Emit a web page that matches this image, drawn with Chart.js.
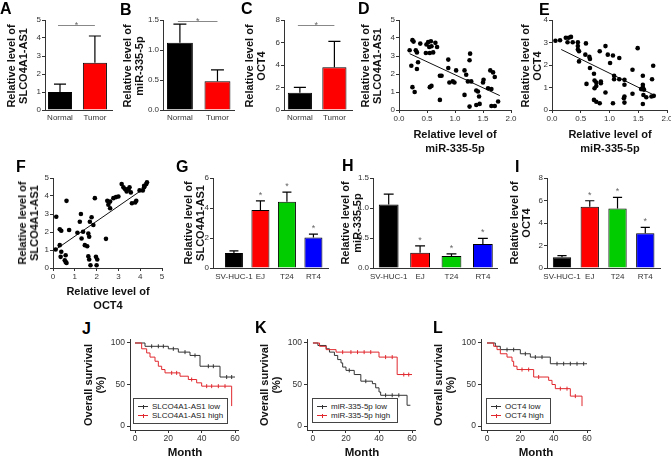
<!DOCTYPE html>
<html><head><meta charset="utf-8">
<script src="https://cdn.jsdelivr.net/npm/chart.js@4.4.1/dist/chart.umd.min.js"></script>
<style>
html,body{margin:0;padding:0;background:#fff;}
#wrap{position:relative;width:671px;height:457px;overflow:hidden;background:#fff;font-family:"Liberation Sans",Arial,sans-serif;color:#111;}
canvas{position:absolute;}
.lt{position:absolute;font-weight:bold;font-size:16px;line-height:16px;color:#000;}
.yt{position:absolute;font-weight:bold;font-size:11px;line-height:12px;white-space:nowrap;text-align:center;transform:translate(-50%,-50%) rotate(-90deg);color:#111;}
.xt{position:absolute;font-weight:bold;font-size:11px;line-height:14px;white-space:nowrap;text-align:center;transform:translate(-50%,-50%);color:#111;}
.mo{font-size:11.5px;}
.lg{position:absolute;box-sizing:border-box;border:1px solid #444;background:#fff;font-size:8px;line-height:9px;color:#222;padding:3px 0 0 4px;}
.li{white-space:nowrap;height:9px;}
.ls{display:inline-block;position:relative;width:10px;height:0;border-top:1px solid currentColor;vertical-align:middle;margin-right:4px;}
.ls::after{content:"";position:absolute;left:4.5px;top:-2.5px;width:1px;height:4px;background:currentColor;}
.lk{color:#333;} .lr{color:#e0282e;}
.tx{color:#222;}
</style></head>
<body>
<div id="wrap">
  <div class="lt" style="left:0px;top:1px">A</div>
  <div class="lt" style="left:120px;top:2px">B</div>
  <div class="lt" style="left:241px;top:1px">C</div>
  <div class="lt" style="left:358px;top:1px">D</div>
  <div class="lt" style="left:539px;top:2px">E</div>
  <div class="lt" style="left:16px;top:159px">F</div>
  <div class="lt" style="left:176px;top:159px">G</div>
  <div class="lt" style="left:342px;top:158px">H</div>
  <div class="lt" style="left:515px;top:159px">I</div>
  <div class="lt" style="left:82px;top:321px">J</div>
  <div class="lt" style="left:255px;top:320px">K</div>
  <div class="lt" style="left:433px;top:320px">L</div>

  <div class="yt" style="left:17px;top:66px">Relative level of<br>SLCO4A1-AS1</div>
  <div class="yt" style="left:133px;top:66px">Relative level of<br>miR-335-5p</div>
  <div class="yt" style="left:255px;top:66px">Relative level of<br>OCT4</div>
  <div class="yt" style="left:370.5px;top:66px">Relative level of<br>SLCO4A1-AS1</div>
  <div class="yt" style="left:531px;top:66px">Relative level of<br>OCT4</div>
  <div class="yt" style="left:27.5px;top:223px">Relative level of<br>SLCO4A1-AS1</div>
  <div class="yt" style="left:194px;top:223px">Relative level of<br>SLCO4A1-AS1</div>
  <div class="yt" style="left:351px;top:223px">Relative level of<br>miR-335-5p</div>
  <div class="yt" style="left:520px;top:223px">Relative level of<br>OCT4</div>
  <div class="yt" style="left:93.5px;top:385px">Overall survival<br>(%)</div>
  <div class="yt" style="left:270px;top:385px">Overall survival<br>(%)</div>
  <div class="yt" style="left:444px;top:385px">Overall survival<br>(%)</div>

  <div class="xt" style="left:455px;top:141px">Relative level of<br>miR-335-5p</div>
  <div class="xt" style="left:610px;top:141px">Relative level of<br>miR-335-5p</div>
  <div class="xt" style="left:108px;top:298px">Relative level of<br>OCT4</div>
  <div class="xt mo" style="left:185px;top:452px">Month</div>
  <div class="xt mo" style="left:362px;top:452px">Month</div>
  <div class="xt mo" style="left:536px;top:452px">Month</div>
</div>
<script>
// ---------------- data ----------------
// A-C: normal vs tumour tissue (mean, SD)
const tissueGroups = ['Normal', 'Tumor'];
const tissueSlco = [1.0, 2.63];
const tissueSlcoSd = [0.44, 1.48];
const tissueMir = [1.12, 0.48];
const tissueMirSd = [0.31, 0.19];
const tissueOct = [1.54, 3.8];
const tissueOctSd = [0.48, 2.3];

// G-I: cell lines (mean, SD)
const cellLines = ['SV-HUC-1', 'EJ', 'T24', 'RT4'];
const cellSlco = [1.0, 3.87, 4.41, 2.04];
const cellSlcoSd = [0.14, 0.61, 0.65, 0.22];
const cellMir = [1.06, 0.255, 0.2, 0.4];
const cellMirSd = [0.17, 0.115, 0.035, 0.095];
const cellOct = [0.95, 5.45, 5.3, 3.08];
const cellOctSd = [0.15, 0.53, 0.98, 0.54];
const cellSignificant = [false, true, true, true];

// D: miR-335-5p (x) vs SLCO4A1-AS1 (y)
const dMirSlco = [[0.19,3.32],[0.24,3.88],[0.26,3.80],[0.22,2.46],[0.24,1.27],[0.28,1.00],[0.30,3.32],[0.32,3.20],
  [0.32,2.28],[0.34,2.65],[0.38,3.69],[0.48,3.17],[0.49,3.64],[0.52,3.77],[0.54,3.50],[0.55,3.17],[0.57,3.82],
  [0.58,3.54],[0.61,3.20],[0.55,1.27],[0.58,1.34],[0.65,3.73],[0.68,3.50],[0.73,1.90],[0.76,1.90],[0.73,0.56],
  [0.88,2.80],[0.88,2.33],[0.90,1.53],[0.96,1.59],[0.99,1.53],[1.02,2.20],[1.17,2.20],[1.20,1.96],[1.17,0.84],
  [1.23,1.59],[1.26,0.19],[1.27,3.13],[1.26,2.76],[1.29,1.59],[1.38,1.08],[1.41,1.03],[1.43,0.75],[1.38,0.28],
  [1.44,0.34],[1.50,1.53],[1.51,1.68],[1.59,1.21],[1.63,2.20],[1.68,2.09],[1.71,1.83],[1.65,0.22],[1.71,0.22],
  [1.65,1.16],[1.77,0.47]];
const dFit = [[0.19,3.13],[1.80,0.80]];

// E: miR-335-5p (x) vs OCT4 (y)
const eMirOct = [[0.06,3.08],[0.14,3.10],[0.24,3.21],[0.29,3.21],[0.33,3.25],[0.27,3.01],[0.36,3.01],[0.45,3.01],
  [0.45,2.84],[0.45,2.69],[0.47,2.61],[0.47,2.16],[0.59,2.96],[0.58,2.46],[0.65,2.36],[0.66,2.27],[0.66,1.87],
  [0.60,1.16],[0.73,1.61],[0.74,1.31],[0.77,1.22],[0.77,1.07],[0.74,0.97],[0.73,0.45],[0.77,0.37],[0.83,0.30],
  [0.83,2.61],[0.85,1.27],[0.85,1.19],[0.93,2.84],[0.93,0.78],[0.97,2.46],[1.01,2.09],[1.06,2.42],[1.06,0.30],
  [1.08,1.52],[1.08,1.37],[1.17,2.31],[1.17,1.37],[1.26,1.34],[1.26,0.60],[1.26,0.33],[1.25,0.52],[1.26,1.12],
  [1.40,1.79],[1.40,0.72],[1.49,2.75],[1.55,0.93],[1.58,1.12],[1.58,1.01],[1.58,1.52],[1.60,0.90],[1.59,0.67],
  [1.58,0.27],[1.73,0.60],[1.74,1.37],[1.76,1.97],[1.77,0.63],[1.64,0.57]];
const eFit = [[0.16,2.69],[1.77,0.67]];

// F: OCT4 (x) vs SLCO4A1-AS1 (y)
const fOctSlco = [[0.15,2.85],[0.12,1.03],[0.31,2.15],[0.38,2.07],[0.31,1.27],[0.38,0.90],[0.35,0.62],[0.54,0.43],
  [0.58,0.34],[0.62,0.28],[0.58,0.71],[0.62,3.73],[0.74,2.11],[1.12,1.96],[1.23,2.57],[1.28,3.00],[1.31,1.64],
  [1.38,2.01],[1.46,1.27],[1.57,1.21],[1.62,1.92],[1.66,1.74],[1.69,2.57],[1.77,2.82],[1.62,0.65],[1.66,0.47],
  [1.72,0.15],[1.85,2.39],[1.92,3.88],[1.97,0.62],[2.03,0.47],[2.00,0.15],[2.43,1.62],[2.49,3.73],[2.54,3.51],
  [2.62,3.69],[2.62,3.32],[2.77,3.88],[2.89,3.94],[3.00,3.97],[3.15,4.66],[3.23,4.48],[3.31,4.38],[3.38,4.25],
  [3.46,4.38],[3.51,4.48],[3.57,4.20],[3.62,3.60],[3.77,3.64],[3.82,3.73],[3.97,4.31],[4.12,4.31],[4.18,4.48],
  [4.28,4.66],[4.31,4.76],[4.18,4.57]];
const fFit = [[0.15,1.05],[4.31,4.53]];

// J-L: Kaplan-Meier curves [month, survival %]
const jLow = [[0,100],[6,96],[20,93],[26,89],[33,85],[39,72],[51,59],[60,59]];
const jHigh = [[0,100],[4,93],[7,88],[9,83],[12,78],[14,72],[16,68],[18,64],[27,60],[32,56],[37,52],[40,48],[58,24]];
const kLow = [[0,100],[3,97],[8,93],[10,89],[13,85],[15,80],[17,76],[18,71],[20,67],[25,62],[29,54],[36,51],[38,46],[40,41],[41,37],[57,25],[59,25]];
const kHigh = [[0,100],[4,96],[8,92],[14,89],[40,83],[51,62],[60,62]];
const lLow = [[0,100],[5,96],[8,92],[20,87],[26,83],[38,75],[60,75]];
const lHigh = [[0,100],[4,96],[6,92],[8,87],[12,83],[15,78],[16,72],[18,68],[28,59],[37,55],[39,50],[41,45],[50,36],[57,24]];
// censor marks
const jLowCens = [[10,96],[14,96],[17,96],[23,93],[30,89],[36,85],[44,72],[47,72],[55,59],[58,59]];
const jHighCens = [[22,64],[25,64],[34,56],[43,48],[46,48],[50,48],[54,48]];
const kLowCens = [[22,67],[32,54],[44,37],[48,37],[52,37]];
const kHighCens = [[18,89],[23,89],[27,89],[31,89],[35,89],[44,83],[48,83],[55,62],[58,62]];
const lLowCens = [[12,92],[16,92],[23,87],[29,83],[33,83],[42,75],[46,75],[50,75],[54,75],[58,75]];
const lHighCens = [[21,68],[25,68],[31,59],[44,45],[48,45],[53,36]];
const kmMonthTicks = [0, 20, 40, 60];
const kmSurvTicks = [0, 50, 100];

// ---------------- rendering ----------------
Chart.defaults.font.family = '"Liberation Sans", Arial, sans-serif';
Chart.defaults.font.size = 8;
Chart.defaults.color = '#333';

const wrap = document.getElementById('wrap');
const ML = 34, MT = 8, MR = 14, MB = 20;
const zeroPad = s => { s.paddingLeft = 0; s.paddingRight = 0; s.paddingTop = 0; s.paddingBottom = 0; };
const fitY = s => { s.width = ML; zeroPad(s); };
const fitX = s => { s.height = MB; zeroPad(s); };
const AX = '#333';

const annot = {
  id: 'annot',
  afterDatasetsDraw(chart, args, opts) {
    const ds0 = chart.data.datasets[0];
    if (!ds0 || !ds0.sd) return;
    const ctx = chart.ctx, ys = chart.scales.y, xs = chart.scales.x;
    const meta = chart.getDatasetMeta(0);
    ctx.save();
    ctx.font = '9px "Liberation Sans", Arial';
    ctx.textAlign = 'center';
    ctx.fillStyle = '#666';
    meta.data.forEach((bar, i) => {
      const v = ds0.data[i].y;
      const y0 = ys.getPixelForValue(v), y1 = ys.getPixelForValue(v + ds0.sd[i]);
      const hw = bar.width / 4;
      ctx.strokeStyle = '#000'; ctx.lineWidth = 1.2;
      ctx.beginPath();
      ctx.moveTo(bar.x, y0); ctx.lineTo(bar.x, y1);
      ctx.moveTo(bar.x - hw, y1); ctx.lineTo(bar.x + hw, y1);
      ctx.stroke();
      if (ds0.star && ds0.star[i]) ctx.fillText('*', bar.x, y1 - 3);
    });
    if (ds0.sig !== undefined) {
      const y = Math.round(ys.getPixelForValue(ds0.sig)) + 0.5;
      const xa = xs.getPixelForValue(0) - 2, xb = xs.getPixelForValue(1);
      ctx.strokeStyle = '#888'; ctx.lineWidth = 1;
      ctx.beginPath(); ctx.moveTo(xa, y); ctx.lineTo(xb, y); ctx.stroke();
      ctx.fillText('*', (xa + xb) / 2, y + 2);
    }
    ctx.restore();
  }
};
Chart.register(annot);

function mk(rect, cfg) {
  const c = document.createElement('canvas');
  const w = rect[2] - rect[0] + ML + MR, h = rect[3] - rect[1] + MT + MB;
  c.width = w; c.height = h;
  c.style.left = (rect[0] - ML) + 'px'; c.style.top = (rect[1] - MT) + 'px';
  c.style.width = w + 'px'; c.style.height = h + 'px';
  wrap.insertBefore(c, wrap.firstChild);
  cfg.options = Object.assign({
    responsive: false, animation: false, devicePixelRatio: 1,
    layout: { autoPadding: false, padding: { left: 0, top: MT, right: MR, bottom: 0 } }
  }, cfg.options);
  cfg.options.plugins = Object.assign({ legend: { display: false }, tooltip: { enabled: false } }, cfg.options.plugins || {});
  return new Chart(c, cfg);
}

function yAxis(max, step, fmt, extra) {
  return Object.assign({
    min: 0, max: max,
    grid: { drawOnChartArea: false, tickLength: 3, color: AX },
    border: { color: AX, width: 1 },
    ticks: { stepSize: step, padding: 1, callback: fmt || (v => v) },
    afterFit: fitY
  }, extra || {});
}

function barPanel(rect, labels, vals, sd, colors, o) {
  const ds = {
    data: vals.map((v, i) => ({ x: i, y: v })),
    sd: sd, star: o.star, sig: o.sig,
    backgroundColor: colors, borderColor: '#000', borderWidth: 1,
    categoryPercentage: 1, barPercentage: o.bar
  };
  mk(rect, {
    type: 'bar',
    data: { datasets: [ds] },
    options: {
      scales: {
        x: {
          type: 'linear', min: o.xMin, max: o.xMax, offset: false,
          grid: { drawOnChartArea: false, drawTicks: false, offset: false },
          border: { color: AX, width: 1 },
          afterBuildTicks: a => { a.ticks = labels.map((_, i) => ({ value: i })); },
          ticks: { autoSkip: false, maxRotation: 0, minRotation: 0, padding: o.xPad, callback: v => labels[v] },
          afterFit: fitX
        },
        y: yAxis(o.yMax, o.yStep, o.fmt)
      }
    }
  });
}

function scatterPanel(rect, pts, fit, o) {
  mk(rect, {
    type: 'scatter',
    data: { datasets: [
      { data: pts.map(p => ({ x: p[0], y: p[1] })), pointRadius: 2.3, pointBackgroundColor: '#000', pointBorderColor: '#000', pointBorderWidth: 0 },
      { type: 'line', data: fit.map(p => ({ x: p[0], y: p[1] })), borderColor: '#111', borderWidth: 1, pointRadius: 0, fill: false }
    ] },
    options: {
      scales: {
        x: {
          type: 'linear', min: 0, max: o.xMax,
          grid: { drawOnChartArea: false, tickLength: 3, color: AX },
          border: { color: AX, width: 1 },
          ticks: { stepSize: o.xStep, padding: 1, callback: o.xFmt },
          afterFit: fitX
        },
        y: yAxis(o.yMax, 1)
      }
    }
  });
}

const KBLK = '#333', KRED = '#e0282e';
function kmPanel(rect, low, high, lowC, highC, xMin) {
  const line = (d, c) => ({ type: 'line', data: d.map(p => ({ x: p[0], y: p[1] })), stepped: true, borderColor: c, borderWidth: 1, pointRadius: 0, fill: false });
  const cens = (d, c) => ({ type: 'scatter', data: d.map(p => ({ x: p[0], y: p[1] })), pointStyle: 'line', rotation: 90, pointRadius: 2, pointBorderColor: c, borderColor: c, pointBorderWidth: 1 });
  mk(rect, {
    type: 'line',
    data: { datasets: [line(high, KRED), line(low, KBLK), cens(highC, KRED), cens(lowC, KBLK)] },
    options: {
      scales: {
        x: {
          type: 'linear', min: xMin, max: 61.8,
          afterBuildTicks: a => { a.ticks = kmMonthTicks.map(v => ({ value: v })); },
          grid: { drawOnChartArea: false, tickLength: 3, color: AX },
          border: { color: AX, width: 1 },
          ticks: { padding: 1, font: { size: 8.5 } },
          afterFit: fitX
        },
        y: {
          type: 'linear', min: -4.8, max: 104.8,
          afterBuildTicks: a => { a.ticks = kmSurvTicks.map(v => ({ value: v })); },
          grid: { drawOnChartArea: false, tickLength: 3, color: AX },
          border: { color: AX, width: 1 },
          ticks: { padding: 2, font: { size: 8.5 } },
          afterFit: fitY
        }
      }
    }
  });
}

const f1 = v => v.toFixed(1);
const twoCol = ['#000000', '#ff0000'];
const fourCol = ['#000000', '#ff0000', '#00cc00', '#0000ff'];

// Row 1
barPanel([45, 20, 112, 110], tissueGroups, tissueSlco, tissueSlcoSd, twoCol,
  { xMin: -0.43, xMax: 1.49, bar: 0.69, yMax: 5, yStep: 1, xPad: 3, sig: 4.72 });
barPanel([163, 20, 234, 110], tissueGroups, tissueMir, tissueMirSd, twoCol,
  { xMin: -0.45, xMax: 1.44, bar: 0.69, yMax: 1.5, yStep: 0.5, fmt: f1, xPad: 3, sig: 1.48 });
barPanel([284, 20, 352, 110], tissueGroups, tissueOct, tissueOctSd, twoCol,
  { xMin: -0.46, xMax: 1.51, bar: 0.7, yMax: 8, yStep: 2, xPad: 3, sig: 7.56 });
scatterPanel([399, 20, 511, 110], dMirSlco, dFit, { xMax: 2, xStep: 0.5, xFmt: f1, yMax: 5 });
scatterPanel([552, 20, 667, 110], eMirOct, eFit, { xMax: 2, xStep: 0.5, xFmt: f1, yMax: 4 });

// Row 2
scatterPanel([53, 178, 162, 268], fOctSlco, fFit, { xMax: 5, xStep: 1, xFmt: v => v, yMax: 5 });
barPanel([213, 178, 328, 268], cellLines, cellSlco, cellSlcoSd, fourCol,
  { xMin: -0.79, xMax: 3.55, bar: 0.68, yMax: 6, yStep: 2, xPad: 4, star: cellSignificant });
barPanel([373, 178, 497, 268], cellLines, cellMir, cellMirSd, fourCol,
  { xMin: -0.5, xMax: 3.45, bar: 0.63, yMax: 1.5, yStep: 0.5, fmt: f1, xPad: 4, star: cellSignificant });
barPanel([547, 178, 660, 268], cellLines, cellOct, cellOctSd, fourCol,
  { xMin: -0.54, xMax: 3.53, bar: 0.66, yMax: 8, yStep: 2, xPad: 4, star: cellSignificant });

// Row 3
kmPanel([130, 339, 238, 430], jLow, jHigh, jLowCens, jHighCens, -3);
kmPanel([307, 339, 415, 430], kLow, kHigh, kLowCens, kHighCens, -3.6);
kmPanel([481, 339, 590, 430], lLow, lHigh, lLowCens, lHighCens, -3.6);

// KM legends (HTML text)
function legend(left, top, w, h, lowTxt, highTxt) {
  const d = document.createElement('div');
  d.className = 'lg';
  d.style.left = left + 'px'; d.style.top = top + 'px';
  d.style.width = w + 'px'; d.style.height = h + 'px';
  d.innerHTML = '<div class="li"><span class="ls lk"></span><span class="tx">' + lowTxt + '</span></div>' +
                '<div class="li"><span class="ls lr"></span><span class="tx">' + highTxt + '</span></div>';
  wrap.appendChild(d);
}
legend(133, 398, 95, 26, 'SLCO4A1-AS1 low', 'SLCO4A1-AS1 high');
legend(312, 398, 86, 25, 'miR-335-5p low', 'miR-335-5p high');
legend(486, 398, 65, 26, 'OCT4 low', 'OCT4 high');
</script>
</body></html>
